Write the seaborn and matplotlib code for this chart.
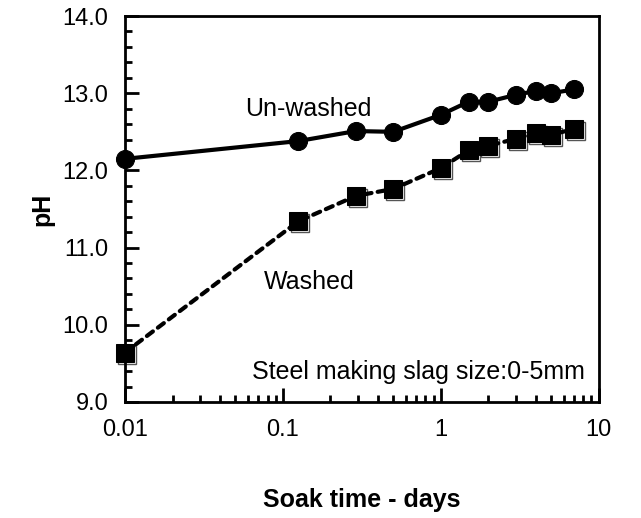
import pandas as pd
import matplotlib
matplotlib.use("Agg")
import matplotlib.pyplot as plt
import matplotlib.transforms as mtrans
import seaborn as sns
from matplotlib.ticker import FixedLocator, LogLocator, NullFormatter, MultipleLocator

# soak times (days) and pH readings
days = [0.01, 0.125, 0.29, 0.5, 1, 1.5, 2, 3, 4, 5, 7]
ph_unwashed = [12.15, 12.38, 12.51, 12.50, 12.72, 12.89, 12.89, 12.98, 13.03, 13.00, 13.05]
ph_washed = [9.64, 11.34, 11.67, 11.76, 12.03, 12.26, 12.32, 12.41, 12.49, 12.46, 12.54]

sns.set_style("ticks")
plt.rcParams['font.family'] = ['Liberation Sans', 'DejaVu Sans']
plt.rcParams['text.color'] = 'black'
plt.rcParams['axes.labelcolor'] = 'black'
plt.rcParams['xtick.color'] = 'black'
plt.rcParams['ytick.color'] = 'black'

df_un = pd.DataFrame({'days': days, 'pH': ph_unwashed})
df_wa = pd.DataFrame({'days': days, 'pH': ph_washed})

fig = plt.figure(figsize=(6.41, 5.18), dpi=100)
ax = fig.add_axes([0.195, 0.224, 0.739, 0.745])

# faint shadow squares behind the washed markers
shadow = mtrans.offset_copy(ax.transData, fig=fig, x=2, y=-2, units='dots')
ax.plot(df_wa['days'], df_wa['pH'], ls='none', marker='s', markersize=13.5,
        markerfacecolor='white', markeredgecolor='#555555', markeredgewidth=1,
        transform=shadow, clip_on=False, zorder=2)

sns.lineplot(data=df_un, x='days', y='pH', ax=ax, color='black', lw=3,
             marker='o', markersize=13, markeredgecolor='black', clip_on=False,
             zorder=3)
sns.lineplot(data=df_wa, x='days', y='pH', ax=ax, color='black', lw=3,
             linestyle=(0, (1.8, 1.5)), dash_capstyle='round', marker='s',
             markersize=13.5, markeredgecolor='black', clip_on=False, zorder=3)

ax.set_xscale('log')
ax.set_xlim(0.01, 10)
ax.set_ylim(9.0, 14.0)

ax.xaxis.set_major_locator(FixedLocator([0.01, 0.1, 1, 10]))
ax.set_xticklabels(['0.01', '0.1', '1', '10'])
ax.xaxis.set_minor_locator(LogLocator(base=10, subs=range(2, 10)))
ax.xaxis.set_minor_formatter(NullFormatter())
ax.yaxis.set_major_locator(MultipleLocator(1.0))
ax.yaxis.set_minor_locator(MultipleLocator(0.2))
ax.set_yticklabels([f'{v:.1f}' for v in ax.get_yticks()])

ax.tick_params(axis='both', which='major', direction='in', length=10, width=2,
               labelsize=17, top=False, right=False)
ax.tick_params(axis='x', which='major', pad=12)
ax.tick_params(axis='y', which='major', pad=12)
ax.tick_params(axis='both', which='minor', direction='in', length=5, width=2,
               top=False, right=False)
for sp in ax.spines.values():
    sp.set_linewidth(2)
    sp.set_color('black')

ax.set_xlabel('Soak time - days', fontsize=18, fontweight='bold', labelpad=34)
ax.set_ylabel('pH', fontsize=18, fontweight='bold', labelpad=6)

ax.text(0.0574, 12.79, 'Un-washed', fontsize=18, ha='left', va='center')
ax.text(0.0755, 10.55, 'Washed', fontsize=18, ha='left', va='center')
ax.text(0.97, 0.078, 'Steel making slag size:0-5mm', fontsize=18,
        ha='right', va='center', transform=ax.transAxes)

fig.savefig('out.png', dpi=100)
